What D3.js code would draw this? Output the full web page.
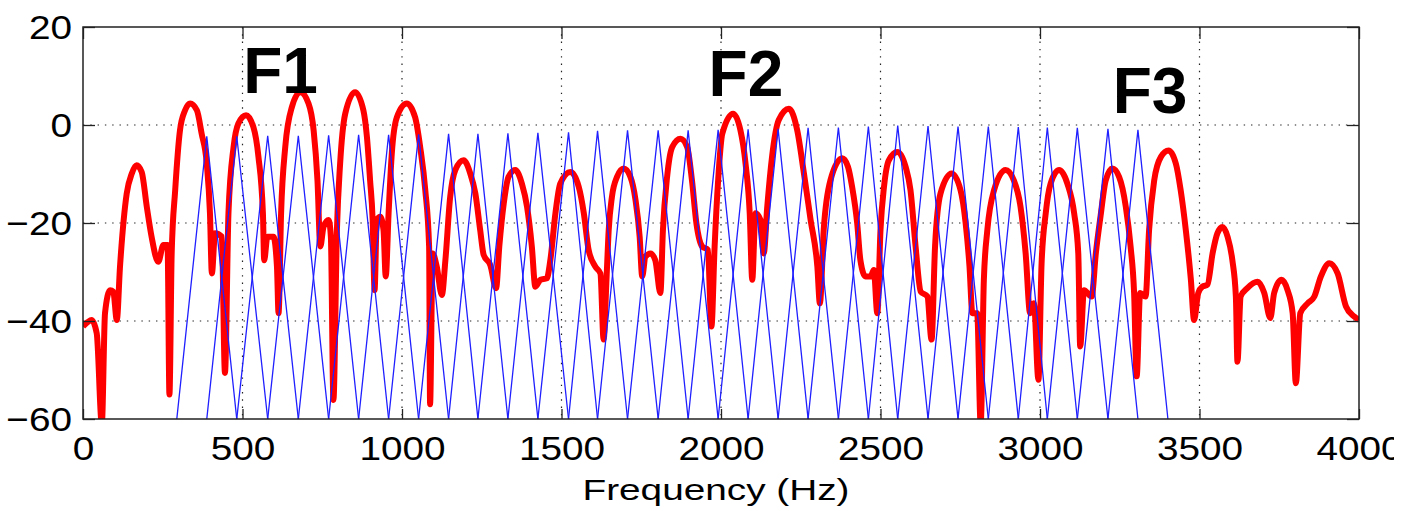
<!DOCTYPE html>
<html><head><meta charset="utf-8">
<script src="https://cdn.jsdelivr.net/npm/d3@7"></script>
<style>
body{margin:0;background:#fff}
svg{display:block}
text{font-family:"Liberation Sans",Arial,Helvetica,sans-serif;fill:#000}
</style>
</head><body>
<svg id="chart" width="1414" height="511"></svg>
<script>
// ---- data ----
const xTicks = [0, 500, 1000, 1500, 2000, 2500, 3000, 3500, 4000];
const yTicks = [-60, -40, -20, 0, 20];

// spectrum (red), Hz and dB
const specFreq = [0,15,27,43,59,69,85,95,106,116,137,153,168,184,200,215,236,252,265,271,278,289,304,320,336,357,372,388,398,404,414,435,445,456,472,487,511,534,550,564,568,578,597,608,613,621,634,655,681,707,723,735,744,754,770,777,785,796,806,822,853,879,890,900,908,914,921,932,942,949,958,968,984,1015,1041,1057,1073,1085,1088,1096,1109,1125,1136,1151,1167,1193,1214,1230,1245,1256,1277,1295,1305,1319,1334,1355,1376,1392,1407,1418,1434,1454,1465,1481,1496,1528,1554,1570,1585,1606,1622,1632,1641,1648,1658,1674,1695,1716,1732,1745,1753,1763,1779,1794,1810,1818,1831,1847,1873,1894,1909,1923,1941,1959,1970,1980,1991,2004,2038,2061,2077,2090,2098,2108,2124,2134,2145,2160,2181,2213,2239,2260,2281,2302,2310,2322,2343,2380,2398,2411,2427,2437,2453,2469,2479,2490,2500,2511,2526,2553,2579,2594,2610,2626,2647,2660,2671,2688,2723,2751,2767,2779,2788,2803,2814,2824,2835,2856,2892,2918,2939,2955,2969,2981,2995,3005,3018,3033,3060,3086,3107,3120,3126,3138,3162,3175,3190,3206,3227,3248,3269,3284,3295,3303,3314,3331,3342,3358,3379,3403,3426,3441,3457,3473,3483,3496,3509,3525,3541,3556,3572,3588,3603,3614,3619,3629,3650,3682,3703,3722,3734,3757,3776,3792,3802,3816,3839,3860,3880,3907,3933,3959,3985,4000];
const specDb = [-41.1,-40.2,-39.8,-42.5,-61,-38.4,-33.7,-34,-39.8,-28.9,-14,-9.9,-8.2,-9.6,-16.7,-22.8,-27.9,-24.5,-24.5,-55,-26.2,-13.3,-1.1,3,4.4,3,-1.8,-7.9,-18,-30.3,-22.1,-22.8,-50.6,-18,-4.5,0.3,2,-0.4,-6.5,-18,-27.6,-22.8,-22.8,-28.9,-38.4,-18,-4.5,3.7,6.7,4.4,-1.1,-11.3,-24.8,-20.8,-19.4,-22.8,-56.1,-21.4,-7.9,2.3,6.7,3,-2.4,-11.3,-19.4,-33.7,-19.4,-18.7,-21.4,-30.9,-18,-5.8,1.6,4.4,1.6,-4.5,-13.3,-24.8,-57,-26.2,-28.9,-34.7,-27.6,-14.7,-9.2,-7.2,-9.9,-14,-21.4,-26.5,-28.6,-33.3,-24.8,-16,-10.6,-9.2,-12,-16.7,-24.8,-33,-31.6,-31.3,-27.6,-18,-12,-9.6,-12.6,-18,-25.5,-28.9,-30.3,-43.8,-31.6,-21.4,-14.7,-10.6,-8.9,-10.6,-15.3,-22.8,-30.9,-26.9,-26.2,-27.6,-34.3,-21.4,-10.6,-4.5,-2.8,-4.5,-11.3,-20.1,-24.8,-25.5,-41.1,-24.8,-11.3,-1.8,2.3,-1.1,-7.9,-18,-31.6,-18,-19.4,-26.2,-16.7,-6.5,1,3.3,-1.1,-9.9,-19.4,-28.9,-36.4,-21.4,-11.3,-6.8,-8.5,-12.6,-20.1,-27.6,-30.9,-30.9,-29.6,-38.4,-21.4,-12.6,-7.2,-5.5,-8.6,-13.3,-24.8,-34,-35,-43.8,-24.8,-14,-9.9,-13.3,-20.1,-28.9,-38.4,-38.4,-61,-31.6,-21.4,-13.3,-9.2,-11.3,-16.7,-26.2,-38.4,-36.4,-52,-28.2,-18,-12,-9.2,-12,-18,-26.2,-45.2,-33.7,-35,-26.2,-18.5,-11.3,-8.9,-10.6,-16.7,-24.8,-34.3,-51.3,-34.3,-35,-21.4,-11.3,-6.5,-5.2,-7.9,-13.3,-21.4,-31.6,-39.8,-34.3,-33,-32.6,-26.2,-22.1,-20.8,-22.8,-27.6,-35,-48.3,-35,-33.3,-32,-34.3,-39.4,-34.3,-31.6,-33.7,-38.4,-52.7,-38.4,-36.4,-35,-31,-28.2,-30.3,-37,-39.1,-39.8];

// triangular filterbank (blue): edge frequencies (Hz) and peak level per filter (dB)
const filterEdges = [294,388,482,579,675,770,864,958,1052,1146,1238,1332,1426,1522,1613,1707,1803,1897,1991,2085,2179,2273,2368,2462,2554,2649,2743,2838,2932,3023,3117,3213,3307,3401];
const filterPeakDb = [-2.3,-2.3,-2.2,-2.2,-2.1,-2.0,-2.0,-1.9,-1.8,-1.8,-1.7,-1.6,-1.5,-1.2,-1.1,-1.1,-1.1,-1.0,-0.9,-0.8,-0.6,-0.5,-0.3,-0.1,-0.2,-0.3,-0.3,-0.4,-0.5,-0.6,-0.8,-1.0];
const filterFloorDb = -60;

// formant annotations
const formantLabels = ["F1", "F2", "F3"];
const formantFreq = [502, 1961, 3228];
const formantDb = [6.5, 6.0, 2.4];

const xLabel = "Frequency (Hz)";

// ---- drawing ----
const svg = d3.select("#chart");
const x = d3.scaleLinear().domain([0, 4000]).range([83, 1359]);
const y = d3.scaleLinear().domain([-60, 20]).range([419, 27]);

svg.append("rect").attr("width", 1414).attr("height", 511).attr("fill", "#fff");

const defs = svg.append("defs");
defs.append("clipPath").attr("id", "plotclip").append("rect")
  .attr("x", x(0)).attr("y", y(20)).attr("width", x(4000) - x(0)).attr("height", y(-60) - y(20));
defs.append("clipPath").attr("id", "labelclip").append("rect")
  .attr("x", -10).attr("y", -10).attr("width", 1404).attr("height", 530);

// grid
const grid = svg.append("g");
grid.selectAll(".gx").data(xTicks.filter(v => v > 0 && v < 4000)).join("line")
  .attr("x1", d => x(d)).attr("x2", d => x(d)).attr("y1", y(20)).attr("y2", y(-60))
  .attr("stroke", "#222").attr("stroke-width", 1.2).attr("stroke-dasharray", "1.4,5.9");
grid.selectAll(".gy").data(yTicks.filter(v => v > -60 && v < 20)).join("line")
  .attr("y1", d => y(d)).attr("y2", d => y(d)).attr("x1", x(0)).attr("x2", x(4000))
  .attr("stroke", "#222").attr("stroke-width", 1.2).attr("stroke-dasharray", "1.4,5.9");

const plot = svg.append("g").attr("clip-path", "url(#plotclip)");

// red spectrum
const spec = specFreq.map((f, i) => [f, specDb[i]]);
plot.append("path").datum(spec)
  .attr("d", d3.line().x(d => x(d[0])).y(d => y(d[1])).curve(d3.curveMonotoneX))
  .attr("fill", "none").attr("stroke", "#ff0000").attr("stroke-width", 6)
  .attr("stroke-linejoin", "bevel");

// blue triangles
const tri = filterPeakDb.map((p, k) => [
  [filterEdges[k], filterFloorDb], [filterEdges[k + 1], p], [filterEdges[k + 2], filterFloorDb]
]);
plot.selectAll(".tri").data(tri).join("path")
  .attr("d", d3.line().x(d => x(d[0])).y(d => y(d[1])))
  .attr("fill", "none").attr("stroke", "#1f1fff").attr("stroke-width", 1.3);

// axes
function stretch(sel, k) {
  sel.each(function () {
    const w = this.getComputedTextLength();
    d3.select(this).attr("textLength", w * k).attr("lengthAdjust", "spacingAndGlyphs");
  });
}
const axB = svg.append("g").attr("transform", `translate(0,${y(-60)})`).attr("clip-path", "url(#labelclip)")
  .call(d3.axisBottom(x).tickValues(xTicks).tickSize(-12).tickPadding(17).tickFormat(d3.format("d")));
const axT = svg.append("g").attr("transform", `translate(0,${y(20)})`)
  .call(d3.axisTop(x).tickValues(xTicks).tickSize(-12).tickFormat(""));
const axL = svg.append("g").attr("transform", `translate(${x(0)},0)`)
  .call(d3.axisLeft(y).tickValues(yTicks).tickSize(-12).tickPadding(11).tickFormat(d3.format("d")));
const axR = svg.append("g").attr("transform", `translate(${x(4000)},0)`)
  .call(d3.axisRight(y).tickValues(yTicks).tickSize(-12).tickFormat(""));
[axB, axT, axL, axR].forEach(g => {
  g.select(".domain").remove();
  g.selectAll(".tick line").attr("stroke", "#222").attr("stroke-width", 1.3);
  g.selectAll(".tick text").attr("font-size", 34).attr("font-family", null).attr("fill", "#000");
});
axL.selectAll(".tick text").attr("dy", "0.33em");
stretch(axB.selectAll(".tick text"), 1.14);
stretch(axL.selectAll(".tick text"), 1.14);

// frame
svg.append("rect").attr("x", x(0)).attr("y", y(20)).attr("width", x(4000) - x(0)).attr("height", y(-60) - y(20))
  .attr("fill", "none").attr("stroke", "#222").attr("stroke-width", 1.5);

// x label
svg.append("text").attr("x", 716).attr("y", 500).attr("text-anchor", "middle")
  .attr("font-size", 30).attr("textLength", 267).attr("lengthAdjust", "spacingAndGlyphs").text(xLabel);

// formant labels
svg.selectAll(".fl").data(formantLabels).join("text")
  .attr("x", (d, i) => x(formantFreq[i])).attr("y", (d, i) => y(formantDb[i]))
  .attr("font-size", 64).attr("font-weight", "bold").text(d => d);
</script>
</body></html>
